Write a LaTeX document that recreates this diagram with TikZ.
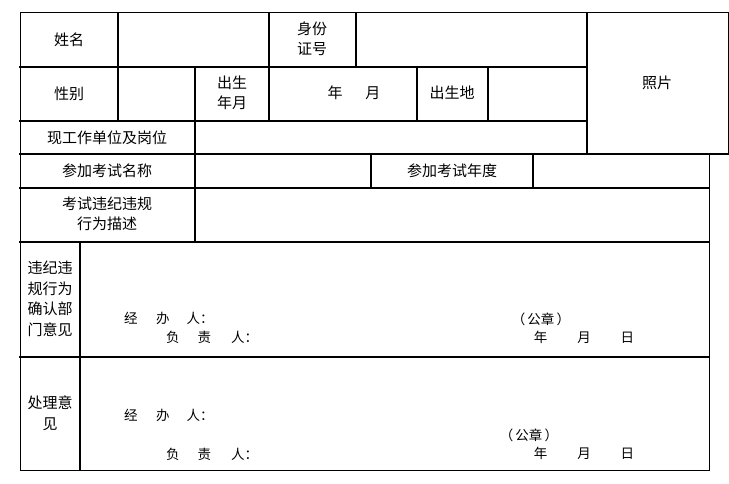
\documentclass[tikz,border=0pt]{standalone}
\usepackage{fontspec}
\newfontfamily\cjk{Noto Sans CJK SC}
\begin{document}
\begin{tikzpicture}[x=1pt,y=-1pt,
  thin line/.style={line width=1pt,line cap=rect},
  thick line/.style={line width=2pt,line cap=rect},
  cell/.style={inner sep=0pt,align=center,font=\cjk\fontsize{15}{20.5}\selectfont},
  sig/.style={inner sep=0pt,anchor=center,font=\cjk\fontsize{13.5}{15}\selectfont}]
\useasboundingbox (0,0) rectangle (729,484);
% outer thin borders
\coordinate (TL) at (20,13);
\coordinate (TR) at (728,13);
\coordinate (PB) at (728,154);
\coordinate (BL) at (20,470);
\coordinate (BR) at (709,470);
\coordinate (RT) at (709,154);
\draw[thin line] (TL) -- (TR) -- (PB);
\draw[thin line] (TL) -- (BL) -- (BR) -- (RT);
% horizontal internal lines
\draw[thick line] (20,67) -- (587,67);
\draw[thick line] (20,121) -- (587,121);
\draw[thick line] (20,154) -- (728,154);
\draw[thick line] (20,188) -- (709,188);
\draw[thick line] (20,242) -- (709,242);
\draw[thick line] (20,357) -- (709,357);
% vertical internal lines
\draw[thick line] (118,13) -- (118,121);
\draw[thick line] (195,67) -- (195,242);
\draw[thick line] (269,13) -- (269,121);
\draw[thick line] (356,13) -- (356,67);
\draw[thick line] (417,67) -- (417,121);
\draw[thick line] (488,67) -- (488,121);
\draw[thick line] (587,13) -- (587,154);
\draw[thick line] (371,154) -- (371,188);
\draw[thick line] (533,154) -- (533,188);
\draw[thick line] (80,242) -- (80,470);
% texts
\node[cell] (name) at (69,40) {姓名};
\node[cell] (id) at (312,39) {身份\\证号};
\node[cell] (photo) at (657,83) {照片};
\node[cell] (sex) at (69,94) {性别};
\node[cell] (birth) at (232,93) {出生\\年月};
\node[cell] (ym) at (354,93) {年\hspace{23pt}月};
\node[cell] (place) at (452,93) {出生地};
\node[cell] (work) at (107,138) {现工作单位及岗位};
\node[cell] (exam) at (107,171) {参加考试名称};
\node[cell] (year) at (452,171) {参加考试年度};
\node[cell] (desc) at (107,214) {考试违纪违规\\行为描述};
\node[cell] (dept) at (50,299) {违纪违\\规行为\\确认部\\门意见};
\node[cell] (deal) at (50,413) {处理意\\见};
% signature block 1
\node[sig,anchor=west] (s1a) at (124,318) {经\hspace{18.5pt}办\hspace{17pt}人：};
\node[sig,anchor=west] (s1b) at (166,337) {负\hspace{18pt}责\hspace{20pt}人：};
\node[sig] (seal1) at (541,319) {（\,公章\,）};
\node[sig] (d1) at (584,337) {年\hspace{30pt}月\hspace{30pt}日};
% signature block 2
\node[sig,anchor=west] (s2a) at (124,415) {经\hspace{18.5pt}办\hspace{17pt}人：};
\node[sig,anchor=west] (s2b) at (166,454) {负\hspace{18pt}责\hspace{20pt}人：};
\node[sig] (seal2) at (529,435) {（\,公章\,）};
\node[sig] (d2) at (584,453) {年\hspace{30pt}月\hspace{30pt}日};
\end{tikzpicture}
\end{document}
